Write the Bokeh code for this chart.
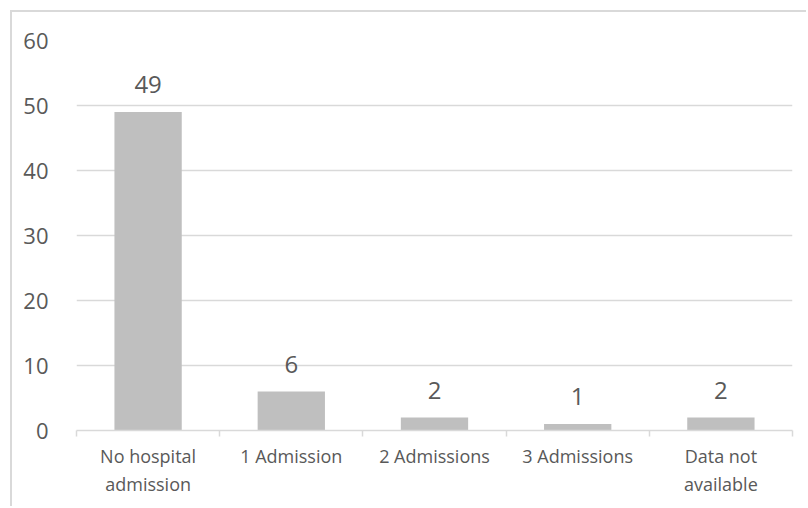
import numpy as np
from bokeh.plotting import figure
from bokeh.models import ColumnDataSource, FixedTicker, LabelSet, Range1d
from bokeh.core.properties import value
from bokeh.embed import file_html
from bokeh.resources import INLINE

categories = ["No hospital\nadmission", "1 Admission", "2 Admissions", "3 Admissions", "Data not\navailable"]
counts = [49, 6, 2, 1, 2]
y_ticks = [0, 10, 20, 30, 40, 50, 60]

GRID = "#D9D9D9"
TEXT = "#595959"
FONT = "Open Sans"

xpos = np.arange(len(categories)) + 0.5
src = ColumnDataSource(dict(x=xpos, top=counts, label=[str(c) for c in counts]))

p = figure(width=796, height=496, output_backend="svg", toolbar_location=None,
           x_range=Range1d(0, len(categories)), y_range=Range1d(0, 60),
           min_border_left=64, min_border_right=16, min_border_top=28, min_border_bottom=78)
p.styles = {"margin-left": "10px", "margin-top": "10px",
            "border-left": "2px solid #D9D9D9", "border-top": "2px solid #D9D9D9"}
p.outline_line_color = None
p.background_fill_color = "white"
p.border_fill_color = "white"

p.vbar(x="x", top="top", width=0.47, bottom=0, source=src, fill_color="#BFBFBF", line_color=None)

labels = LabelSet(x="x", y="top", text="label", source=src, text_align="center",
                  text_baseline="alphabetic", y_offset=19, text_font=value(FONT),
                  text_font_size=value("24px"), text_color=value(TEXT))
p.add_layout(labels)

# x axis
p.xaxis.ticker = FixedTicker(ticks=list(xpos), minor_ticks=list(range(len(categories) + 1)))
p.xaxis.major_label_overrides = {float(x): c for x, c in zip(xpos, categories)}
p.xaxis.major_tick_line_color = None
p.xaxis.major_tick_out = 0
p.xaxis.major_tick_in = 0
p.xaxis.minor_tick_line_color = GRID
p.xaxis.minor_tick_line_width = 1.5
p.xaxis.minor_tick_out = 6
p.xaxis.minor_tick_in = 0
p.xaxis.axis_line_color = GRID
p.xaxis.axis_line_width = 1.5
p.xaxis.major_label_text_font = FONT
p.xaxis.major_label_text_font_size = "18px"
p.xaxis.major_label_text_color = TEXT
p.xaxis.major_label_standoff = 7
p.xgrid.grid_line_color = None

# y axis
p.yaxis.ticker = FixedTicker(ticks=y_ticks)
p.yaxis.axis_line_color = None
p.yaxis.major_tick_line_color = None
p.yaxis.minor_tick_line_color = None
p.yaxis.major_label_text_font = FONT
p.yaxis.major_label_text_font_size = "22px"
p.yaxis.major_label_text_color = TEXT
p.yaxis.major_label_standoff = 22
p.ygrid.ticker = FixedTicker(ticks=y_ticks)
p.ygrid.grid_line_color = GRID
p.ygrid.grid_line_width = 1.5

open("out.html", "w").write(file_html(p, INLINE))
